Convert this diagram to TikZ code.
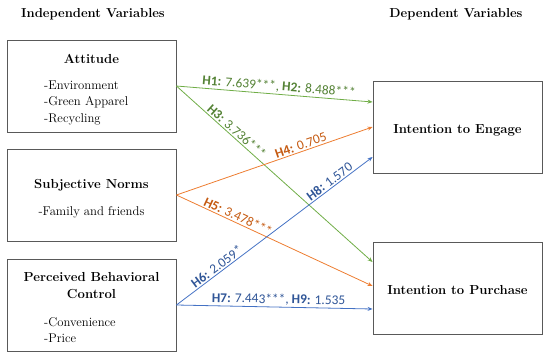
\documentclass[tikz,border=0pt]{standalone}
\usepackage{fontspec}
\newfontfamily\lblfont{Carlito}
\usetikzlibrary{arrows.meta}
\definecolor{gline}{RGB}{112,173,71}
\definecolor{gtext}{RGB}{84,130,53}
\definecolor{oline}{RGB}{237,125,49}
\definecolor{otext}{RGB}{197,90,17}
\definecolor{bline}{RGB}{68,114,196}
\definecolor{btext}{RGB}{47,85,151}
\begin{document}
\begin{tikzpicture}[x=1pt,y=-1pt,
  box/.style={draw=black!65, line width=0.9pt, minimum width=169pt, minimum height=92pt, inner sep=0pt},
  head/.style={font=\rmfamily\fontsize{13}{16}\selectfont\bfseries, anchor=base, inner sep=0pt},
  ttl/.style={font=\rmfamily\fontsize{13.1}{16}\selectfont\bfseries, anchor=base, inner sep=0pt},
  item/.style={font=\rmfamily\fontsize{12.7}{15}\selectfont, anchor=base west, inner sep=0pt},
  conn/.style={line width=0.8pt, -{Stealth[length=5pt,width=4pt]}},
  lbl/.style={font=\lblfont\fontsize{13.4}{15}\selectfont, sloped, above, inner sep=1.5pt},
]
\useasboundingbox (0,0) rectangle (550,360);
% boxes
\node[box] (att) at (91.5,86) {};
\node[box] (sn) at (91.5,195) {};
\node[box] (pbc) at (91.5,305) {};
\node[box] (eng) at (457.5,127) {};
\node[box] (pur) at (457.5,288) {};
% headers
\node[head] (hind) at (93,17) {Independent Variables};
\node[head] (hdep) at (456,17) {Dependent Variables};
% box texts
\node[ttl] (attT) at (91.5,63) {Attitude};
\node[item] (att1) at (44,89) {-Environment};
\node[item] (att2) at (44,105.5) {-Green Apparel};
\node[item] (att3) at (44,122) {-Recycling};
\node[ttl] (snT) at (91.5,188) {Subjective Norms};
\node[font=\rmfamily\fontsize{12.7}{15}\selectfont, anchor=base, inner sep=0pt] (sn1) at (91.5,215) {-Family and friends};
\node[ttl] (pbcT1) at (91.5,281) {Perceived Behavioral};
\node[ttl] (pbcT2) at (91.5,298) {Control};
\node[item] (pbc1) at (44,326) {-Convenience};
\node[item] (pbc2) at (44,342) {-Price};
\node[ttl] (engT) at (457.5,133) {Intention to Engage};
\node[ttl] (purT) at (457.5,294) {Intention to Purchase};
% connectors
\draw[conn, gline] (att.east) -- node[lbl, pos=0.52, text=gtext] {\textbf{H1:} 7.639***, \textbf{H2:} 8.488***} ([yshift=25pt]eng.west);
\draw[conn, gline] (att.east) -- node[lbl, pos=0.285, text=gtext] {\textbf{H3:} 3.736***} ([yshift=26pt]pur.west);
\draw[conn, oline] (sn.east) -- node[lbl, pos=0.645, text=otext] {\textbf{H4:} 0.705} (eng.west);
\draw[conn, oline] (sn.east) -- node[lbl, pos=0.30, text=otext] {\textbf{H5:} 3.478***} ([yshift=2pt]pur.west);
\draw[conn, bline] (pbc.east) -- node[lbl, pos=0.225, text=btext] {\textbf{H6:} 2.059*} node[lbl, pos=0.80, text=btext] {\textbf{H8:} 1.570} ([yshift=-30pt]eng.west);
\draw[conn, bline] (pbc.east) -- node[lbl, pos=0.52, text=btext] {\textbf{H7:} 7.443***, \textbf{H9:} 1.535} ([yshift=-21pt]pur.west);
\end{tikzpicture}
\end{document}
